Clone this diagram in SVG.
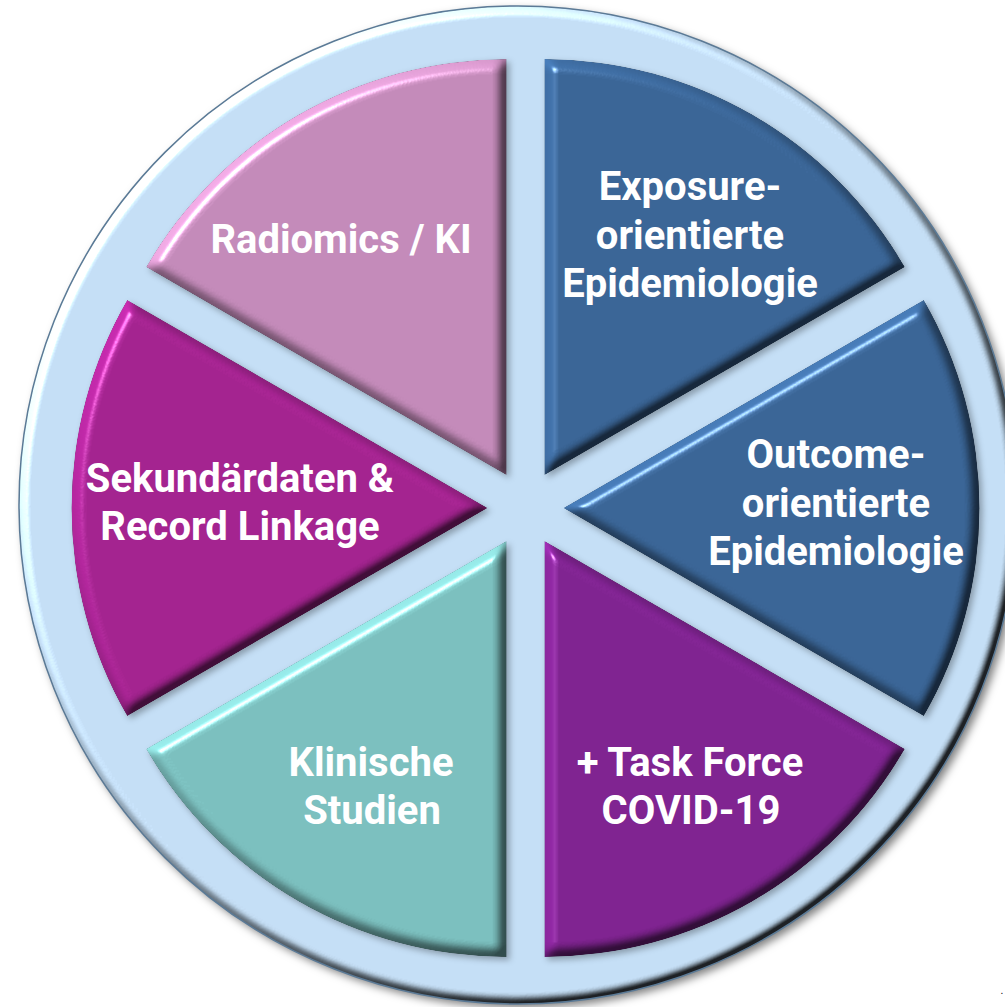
<svg xmlns="http://www.w3.org/2000/svg" width="1005" height="1007" viewBox="0 0 1005 1007">
  <defs>
    <style>
      .lbl { font-family: Roboto, "Liberation Sans", sans-serif; font-weight: 700; font-size: 40px; fill: #ffffff; text-anchor: middle; }
      .wedge { filter: url(#bevel); }
    </style>
    <filter id="bevel" x="-10%" y="-10%" width="125%" height="125%" color-interpolation-filters="sRGB">
      <feGaussianBlur in="SourceAlpha" stdDeviation="6" result="b"/>
      <feDiffuseLighting in="b" surfaceScale="10" diffuseConstant="1" lighting-color="#ffffff" result="d">
        <feDistantLight azimuth="225" elevation="45"/>
      </feDiffuseLighting>
      <feComposite in="SourceGraphic" in2="d" operator="arithmetic" k1="0.85" k2="0.4" k3="0" k4="0" result="lit"/>
      <feSpecularLighting in="b" surfaceScale="10" specularConstant="1" specularExponent="60" lighting-color="#ffffff" result="s">
        <feDistantLight azimuth="225" elevation="45"/>
      </feSpecularLighting>
      <feComposite in="s" in2="SourceAlpha" operator="in" result="sIn"/>
      <feComposite in="lit" in2="sIn" operator="arithmetic" k1="0" k2="1" k3="0.6" k4="0" result="shape"/>
      <feComposite in="shape" in2="SourceAlpha" operator="in" result="clean"/>
      <feGaussianBlur in="SourceAlpha" stdDeviation="3" result="sb"/>
      <feOffset in="sb" dx="3" dy="3" result="so"/>
      <feFlood flood-color="#000000" flood-opacity="0.3"/>
      <feComposite in2="so" operator="in" result="shadow"/>
      <feMerge>
        <feMergeNode in="shadow"/>
        <feMergeNode in="clean"/>
      </feMerge>
    </filter>
    <filter id="ringBevel" x="-5%" y="-5%" width="112%" height="112%" color-interpolation-filters="sRGB">
      <feGaussianBlur in="SourceAlpha" stdDeviation="4" result="b"/>
      <feDiffuseLighting in="b" surfaceScale="8" diffuseConstant="1" lighting-color="#ffffff" result="d">
        <feDistantLight azimuth="225" elevation="45"/>
      </feDiffuseLighting>
      <feComposite in="SourceGraphic" in2="d" operator="arithmetic" k1="1.2" k2="0.15" k3="0" k4="0" result="lit"/>
      <feSpecularLighting in="b" surfaceScale="8" specularConstant="1" specularExponent="60" lighting-color="#ffffff" result="s">
        <feDistantLight azimuth="225" elevation="45"/>
      </feSpecularLighting>
      <feComposite in="s" in2="SourceAlpha" operator="in" result="sIn"/>
      <feComposite in="lit" in2="sIn" operator="arithmetic" k1="0" k2="1" k3="0.6" k4="0" result="shape"/>
      <feComposite in="shape" in2="SourceAlpha" operator="in" result="clean"/>
      <feGaussianBlur in="SourceAlpha" stdDeviation="4" result="sb"/>
      <feOffset in="sb" dx="4" dy="4" result="so"/>
      <feFlood flood-color="#000000" flood-opacity="0.5"/>
      <feComposite in2="so" operator="in" result="shadow"/>
      <feMerge>
        <feMergeNode in="shadow"/>
        <feMergeNode in="clean"/>
      </feMerge>
    </filter>
  </defs>

  <g id="ring">
    <circle cx="518" cy="505" r="499" fill="#C5DFF6" filter="url(#ringBevel)"/>
    <circle cx="518" cy="505" r="499" fill="none" stroke="#5B7A96" stroke-width="1.5"/>
  </g>

  <g id="connectors"></g>

  <g id="radiomics">
    <path class="wedge" d="M506.5 475.1 L506.5 59.1 A416 416 0 0 0 146.23 267.1 Z" fill="#C38AB9"/>
    <text class="lbl" x="341" y="253">Radiomics / KI</text>
  </g>

  <g id="exposure">
    <path class="wedge" d="M544.5 475.1 L904.77 267.1 A416 416 0 0 0 544.5 59.1 Z" fill="#3A6596"/>
    <text class="lbl" x="690" y="200">Exposure-</text>
    <text class="lbl" x="690" y="249">orientierte</text>
    <text class="lbl" x="690" y="297">Epidemiologie</text>
  </g>

  <g id="outcome">
    <path class="wedge" d="M563.5 508 L923.77 716 A416 416 0 0 0 923.77 300 Z" fill="#3A6596"/>
    <text class="lbl" x="836" y="468">Outcome-</text>
    <text class="lbl" x="836" y="517">orientierte</text>
    <text class="lbl" x="836" y="565">Epidemiologie</text>
  </g>

  <g id="taskforce">
    <path class="wedge" d="M544.5 540.9 L544.5 956.9 A416 416 0 0 0 904.77 748.9 Z" fill="#7F2390"/>
    <text class="lbl" x="690" y="776">+ Task Force</text>
    <text class="lbl" x="691" y="824">COVID-19</text>
  </g>

  <g id="klinische">
    <path class="wedge" d="M506.5 540.9 L146.23 748.9 A416 416 0 0 0 506.5 956.9 Z" fill="#7BBFBE"/>
    <text class="lbl" x="371" y="776">Klinische</text>
    <text class="lbl" x="372" y="824">Studien</text>
  </g>

  <g id="sekundaer">
    <path class="wedge" d="M487.5 508 L127.23 300 A416 416 0 0 0 127.23 716 Z" fill="#A3238F"/>
    <text class="lbl" x="240" y="492">Sekundärdaten &amp;</text>
    <text class="lbl" x="240" y="540">Record Linkage</text>
  </g>

  <text x="1002" y="994" font-family="Liberation Sans, sans-serif" font-size="10" fill="#000000" text-anchor="middle">.</text>
</svg>
